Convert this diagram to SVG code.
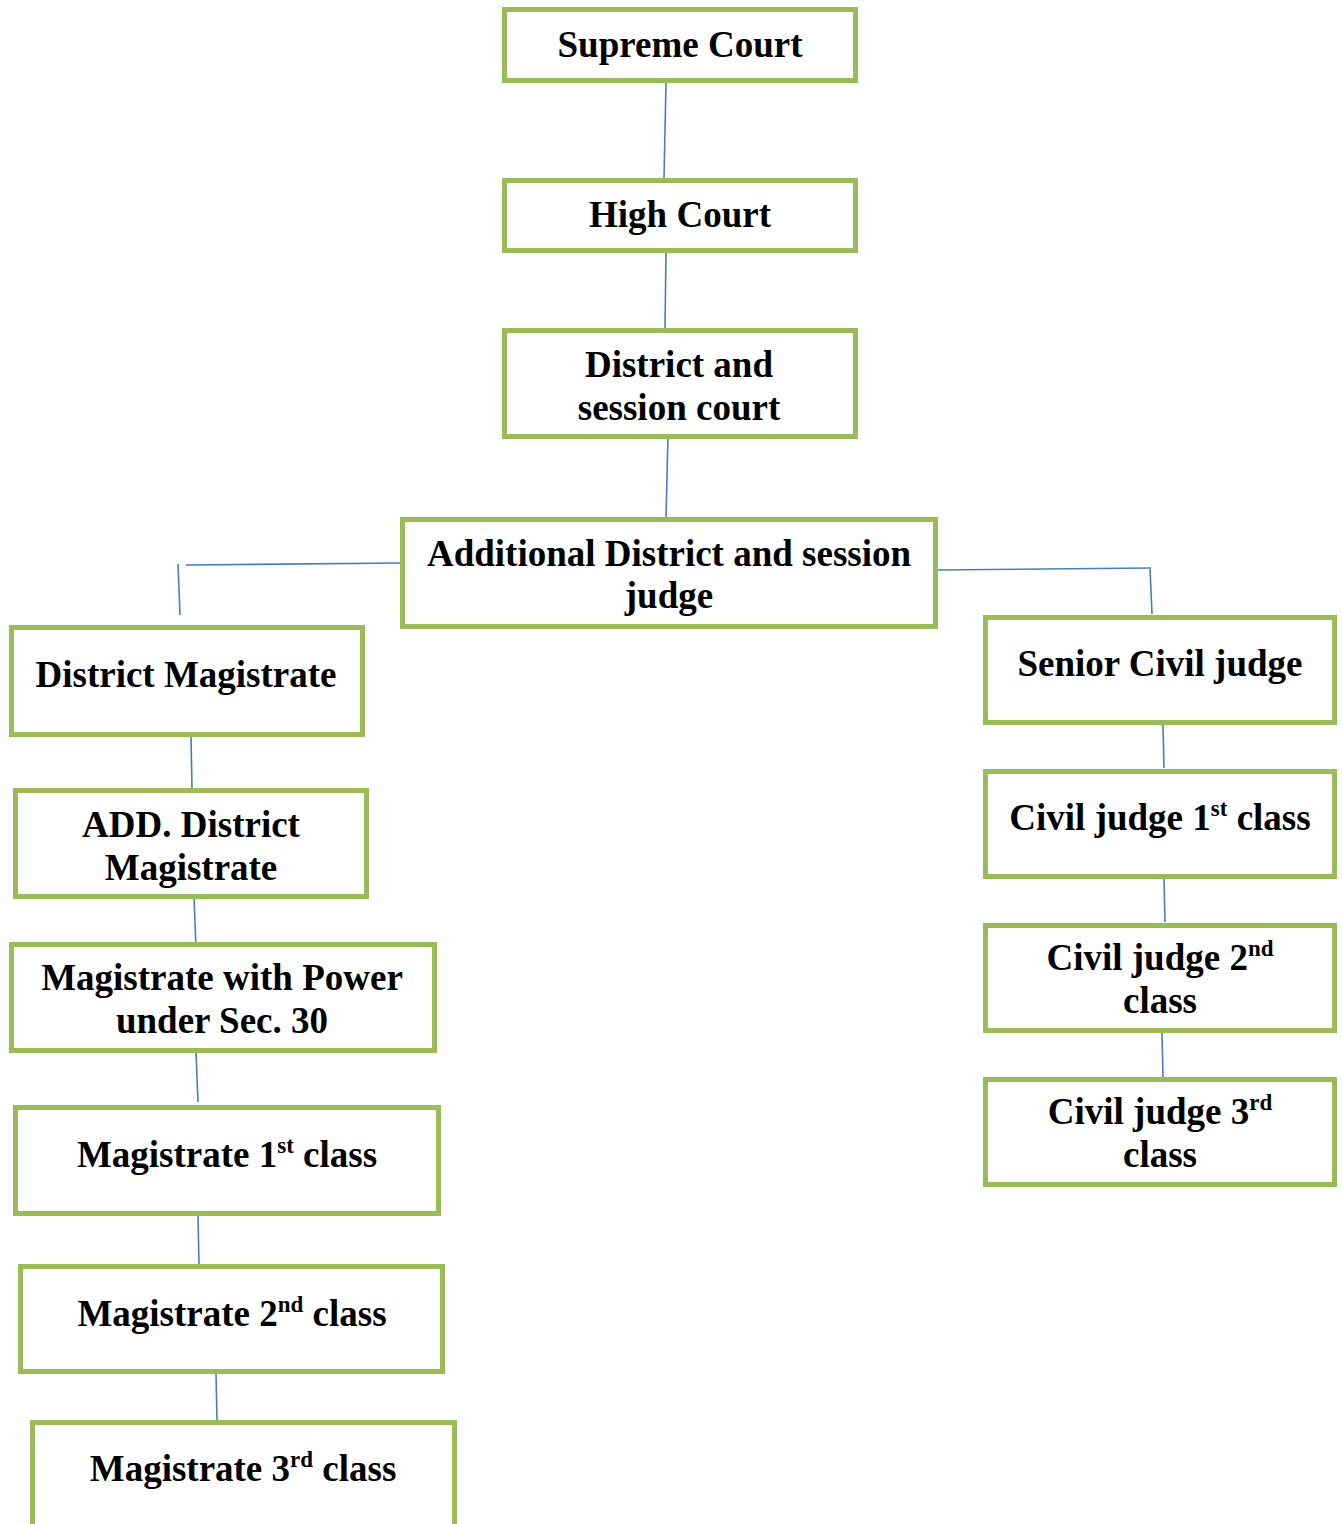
<svg xmlns="http://www.w3.org/2000/svg" width="1342" height="1524" viewBox="0 0 1342 1524">
<style>
.box{fill:#fff;stroke:#9bbb59;stroke-width:5}
.t{font-family:"Liberation Serif","Times New Roman",serif;font-weight:bold;font-size:37px;fill:#000;text-anchor:middle}
.s{font-size:23px}
.c{stroke:#4a7ebb;stroke-width:1.6;fill:none}
</style>
<rect width="1342" height="1524" fill="#fff"/>
<g id="connectors">
<line class="c" x1="666" y1="83" x2="664" y2="178"/>
<line class="c" x1="666" y1="253" x2="665" y2="328"/>
<line class="c" x1="668" y1="436" x2="666" y2="517"/>
<line class="c" x1="186" y1="565" x2="401" y2="563"/>
<line class="c" x1="178" y1="564" x2="180" y2="615"/>
<line class="c" x1="937" y1="570" x2="1151" y2="568"/>
<line class="c" x1="1150" y1="569" x2="1152" y2="614"/>
<line class="c" x1="191" y1="737" x2="192" y2="788"/>
<line class="c" x1="194" y1="898" x2="196" y2="948"/>
<line class="c" x1="196" y1="1052" x2="198" y2="1102"/>
<line class="c" x1="198" y1="1216" x2="199" y2="1264"/>
<line class="c" x1="216" y1="1374" x2="217" y2="1420"/>
<line class="c" x1="1163" y1="725" x2="1164" y2="768"/>
<line class="c" x1="1164" y1="879" x2="1165" y2="922"/>
<line class="c" x1="1162" y1="1033" x2="1163" y2="1077"/>
</g>
<g id="supreme-court"><rect class="box" x="504.5" y="9.5" width="351" height="71"/><text class="t" x="680" y="57">Supreme Court</text></g>
<g id="high-court"><rect class="box" x="504.5" y="180.5" width="351" height="70"/><text class="t" x="680" y="227">High Court</text></g>
<g id="district-session-court"><rect class="box" x="504.5" y="330.5" width="351" height="106"/><text class="t" x="679" y="377">District and</text><text class="t" x="679" y="420">session court</text></g>
<g id="additional-district"><rect class="box" x="402.5" y="519.5" width="533" height="107"/><text class="t" x="669" y="566">Additional District and session</text><text class="t" x="669" y="608">judge</text></g>
<g id="district-magistrate"><rect class="box" x="11.5" y="627.5" width="351" height="107"/><text class="t" x="186" y="687">District Magistrate</text></g>
<g id="add-district-magistrate"><rect class="box" x="15.5" y="790.5" width="351" height="106"/><text class="t" x="191" y="837">ADD. District</text><text class="t" x="191" y="880">Magistrate</text></g>
<g id="magistrate-sec30"><rect class="box" x="11.5" y="944.5" width="423" height="106"/><text class="t" x="222" y="990">Magistrate with Power</text><text class="t" x="222" y="1033">under Sec. 30</text></g>
<g id="magistrate-1st"><rect class="box" x="15.5" y="1107.5" width="423" height="106"/><text class="t" x="227" y="1167">Magistrate 1<tspan class="s" dy="-14">st</tspan><tspan dy="14"> class</tspan></text></g>
<g id="magistrate-2nd"><rect class="box" x="20.5" y="1266.5" width="422" height="105"/><text class="t" x="232" y="1326">Magistrate 2<tspan class="s" dy="-14">nd</tspan><tspan dy="14"> class</tspan></text></g>
<g id="magistrate-3rd"><rect class="box" x="32.5" y="1422.5" width="422" height="130"/><text class="t" x="243" y="1481">Magistrate 3<tspan class="s" dy="-14">rd</tspan><tspan dy="14"> class</tspan></text></g>
<g id="senior-civil-judge"><rect class="box" x="985.5" y="617.5" width="349" height="105"/><text class="t" x="1160" y="676">Senior Civil judge</text></g>
<g id="civil-judge-1st"><rect class="box" x="985.5" y="771.5" width="349" height="105"/><text class="t" x="1160" y="830">Civil judge 1<tspan class="s" dy="-14">st</tspan><tspan dy="14"> class</tspan></text></g>
<g id="civil-judge-2nd"><rect class="box" x="985.5" y="925.5" width="349" height="105"/><text class="t" x="1160" y="970">Civil judge 2<tspan class="s" dy="-14">nd</tspan></text><text class="t" x="1160" y="1013">class</text></g>
<g id="civil-judge-3rd"><rect class="box" x="985.5" y="1079.5" width="349" height="105"/><text class="t" x="1160" y="1124">Civil judge 3<tspan class="s" dy="-14">rd</tspan></text><text class="t" x="1160" y="1167">class</text></g>
</svg>
